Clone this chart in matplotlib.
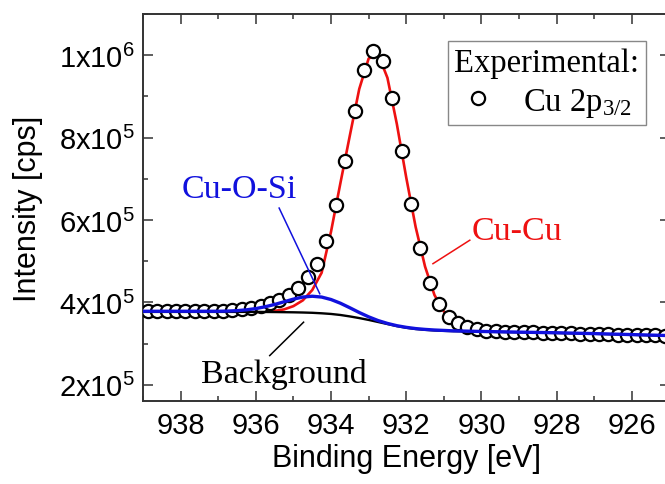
import numpy as np
import matplotlib
matplotlib.use('Agg')
import matplotlib.pyplot as plt
from matplotlib.ticker import MultipleLocator, FuncFormatter

plt.rcParams['font.family'] = ['Liberation Sans', 'DejaVu Sans']
plt.rcParams['mathtext.default'] = 'regular'

# ---data (intensities in 1e3 cps)---
exp_energy_eV = np.arange(938.875, 925.0, -0.25)
exp_intensity_k = [378, 378, 378, 378, 378, 378, 378, 378.5, 379.5, 381,
                   383, 386, 391, 398, 406, 417, 435, 461, 494, 550,
                   636, 744, 864, 964, 1010, 986, 895, 768, 640, 531,
                   447, 395, 365, 349, 340, 335, 331, 330, 329, 328.5,
                   327.5, 327, 326.5, 326, 325.5, 325, 324.5, 324, 323, 322.5,
                   322, 321.5, 321, 320.5, 320, 319.5]

fit_energy_eV = np.arange(939.0, 924.9, -0.25)
background_k = [377, 377, 377, 377, 377, 377, 377, 377, 377, 377,
                377, 377, 377, 376.8, 376.6, 376.3, 376, 375.5, 374.8, 373.6,
                372, 369.5, 366, 362, 357.5, 352.5, 347.5, 342.5, 338.5, 335.5,
                333.5, 332, 331, 330.3, 329.8, 329.3, 329, 328.6, 328.2, 327.8,
                327.4, 327, 326.6, 326.2, 325.8, 325.3, 324.8, 324.3, 323.8, 323.2,
                322.6, 322, 321.4, 320.8, 320.2, 319.6, 319]
cu_o_si_k = [378.5, 378.5, 378.5, 378.5, 378.5, 378.5, 378.5, 378.5, 378.5, 379,
             380, 382, 385, 389.5, 395, 401.5, 408, 413, 415, 413,
             407, 398, 387, 375.5, 365, 356, 349, 343.5, 339.5, 336.5,
             334.5, 333, 332, 331, 330.5, 330, 329.5, 329.1, 328.7, 328.3,
             327.9, 327.5, 327.1, 326.7, 326.3, 325.8, 325.3, 324.8, 324.3, 323.7,
             323.1, 322.5, 321.9, 321.3, 320.7, 320.1, 319.5]
cu_cu_k = [377, 377, 377, 377, 377, 377, 377, 377, 377, 377,
           377, 377, 377, 377.5, 379.5, 383, 391, 405, 430, 472,
           572, 690, 805, 918, 992, 1003, 945, 833, 703, 583,
           487, 418, 378, 356, 344, 337, 333, 331, 330, 329,
           328, 327, 326.6, 326.2, 325.8, 325.3, 324.8, 324.3, 323.8, 323.2,
           322.6, 322, 321.4, 320.8, 320.2, 319.6, 319]

exp_intensity = np.array(exp_intensity_k) * 1e3
background = np.array(background_k) * 1e3
cu_o_si = np.array(cu_o_si_k) * 1e3
cu_cu = np.array(cu_cu_k) * 1e3

fig = plt.figure(figsize=(6.65, 4.85), dpi=100)
ax = fig.add_axes([143/665., 1 - 402.3/485., 526.5/665., 387.3/485.])

ax.plot(fit_energy_eV, cu_cu, '-', color='#ee1111', lw=1.9, zorder=2)
exp_line, = ax.plot(exp_energy_eV, exp_intensity, 'o', ms=9.5, mfc='white', mec='black',
                    mew=1.6, ls='none', zorder=3)
ax.plot(fit_energy_eV, background, '-', color='black', lw=1.7, zorder=4)
ax.plot(fit_energy_eV, cu_o_si, '-', color='#1111dd', lw=2.4, zorder=5)

serif = 'Liberation Serif'
# labels with pointer lines
ax.text(937.97, 6.57e5, 'Cu-O-Si', color='#1111dd', family=serif, fontsize=24.5, va='baseline')
ax.plot([935.38, 934.30], [6.29e5, 4.21e5], '-', color='#1111dd', lw=1.1, zorder=6)
ax.text(930.26, 5.55e5, 'Cu-Cu', color='#ee1111', family=serif, fontsize=24.5, va='baseline')
ax.plot([930.31, 931.29], [5.51e5, 4.94e5], '-', color='#ee1111', lw=1.1, zorder=6)
ax.text(937.45, 2.07e5, 'Background', color='black', family=serif, fontsize=24.5, va='baseline')
ax.plot([935.63, 934.73], [2.71e5, 3.52e5], '-', color='black', lw=1.1, zorder=6)

ax.set_xlim(939, 925)
ax.set_ylim(1.6e5, 1.1e6)
ax.xaxis.set_major_locator(MultipleLocator(2))
ax.xaxis.set_minor_locator(MultipleLocator(1))
ax.yaxis.set_major_locator(MultipleLocator(2e5))
ax.yaxis.set_minor_locator(MultipleLocator(1e5))

def sci_fmt(v, pos):
    if v <= 0:
        return ''
    e = int(np.floor(np.log10(v) + 1e-9))
    m = int(round(v / 10**e))
    return '%dx10$^{%d}$' % (m, e)

ax.yaxis.set_major_formatter(FuncFormatter(sci_fmt))
ax.tick_params(which='both', direction='in', top=True, right=True, width=1.1, color='#333333')
ax.tick_params(which='major', length=7)
ax.tick_params(which='minor', length=3.5)
ax.tick_params(axis='x', which='major', labelsize=21, pad=7)
ax.tick_params(axis='y', which='major', labelsize=21, pad=6)
for s in ax.spines.values():
    s.set_linewidth(1.4)
    s.set_color('#333333')

ax.set_xlabel('Binding Energy [eV]', fontsize=22, labelpad=3)
ax.set_ylabel('Intensity [cps]', fontsize=22, labelpad=11)

leg = ax.legend(handles=[exp_line], labels=['Cu 2p$_{3/2}$'], title='Experimental:',
                prop={'family': serif, 'size': 23.5},
                title_fontproperties={'family': serif, 'size': 23.5},
                loc='upper right', bbox_to_anchor=(646/665., 1 - 41.7/485.),
                bbox_transform=fig.transFigure, borderaxespad=0, borderpad=0.2,
                handlelength=1.0, handletextpad=0.9, labelspacing=0.25,
                fancybox=False, framealpha=1, edgecolor='#888888', numpoints=1)
leg.get_frame().set_linewidth(1.0)

plt.savefig('out.png', dpi=100)
